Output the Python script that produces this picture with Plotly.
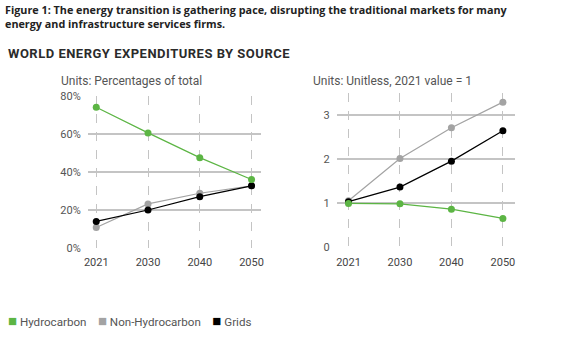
import plotly.graph_objects as go

years = ["2021", "2030", "2040", "2050"]

# Share of world energy expenditures (% of total)
share_hydrocarbon = [74, 60.5, 47.5, 36]
share_non_hydrocarbon = [10.8, 23.2, 28.8, 32.7]
share_grids = [14, 20, 27, 32.7]

# Expenditures indexed to 2021 (2021 value = 1)
index_hydrocarbon = [1.0, 0.99, 0.87, 0.66]
index_non_hydrocarbon = [1.06, 2.02, 2.72, 3.30]
index_grids = [1.04, 1.37, 1.96, 2.65]

pct_ticks = [0, 20, 40, 60, 80]
pct_labels = ["0%", "20%", "40%", "60%", "80%"]
idx_ticks = [0, 1, 2, 3]

GREEN = "#5cb544"
GREY = "#a3a3a3"
BLACK = "#000000"
FONT = "Roboto"

series = [
    ("Hydrocarbon", GREEN, share_hydrocarbon, index_hydrocarbon),
    ("Non-Hydrocarbon", GREY, share_non_hydrocarbon, index_non_hydrocarbon),
    ("Grids", BLACK, share_grids, index_grids),
]

fig = go.Figure()

# grey first, then black, green on top
for name, color, share, idx in [series[1], series[2], series[0]]:
    fig.add_trace(go.Scatter(
        x=years, y=share, mode="lines+markers", name=name,
        line=dict(color=color, width=1.2),
        marker=dict(color=color, size=7),
        xaxis="x", yaxis="y", showlegend=False,
    ))
    fig.add_trace(go.Scatter(
        x=years, y=idx, mode="lines+markers", name=name,
        line=dict(color=color, width=1.2),
        marker=dict(color=color, size=7),
        xaxis="x2", yaxis="y2", showlegend=False,
    ))

W, H = 577, 341

def px(x):
    return x / W

def py(y):
    return 1 - y / H

xcommon = dict(
    type="category", showgrid=True, gridcolor="#c4c4c4", griddash="dash",
    gridwidth=1, zeroline=False, showline=False,
    ticks="outside", ticklen=4, tickcolor="rgba(0,0,0,0)",
    tickfont=dict(family=FONT, size=11, color="#444444"),
)
ycommon = dict(
    showgrid=True, gridcolor="#c4c4c4", gridwidth=1.5, zeroline=False,
    showline=False, ticks="outside", ticklen=4, tickcolor="rgba(0,0,0,0)",
    tickfont=dict(family=FONT, size=11, color="#555555"),
)

legend_html = "&nbsp;&nbsp;&nbsp;&nbsp;".join(
    f"<span style='color:{c};font-size:15px'>■</span>&nbsp;{n}"
    for n, c, _, _ in series
)

fig.update_layout(
    width=W, height=H,
    margin=dict(l=0, r=0, t=0, b=0),
    paper_bgcolor="white", plot_bgcolor="white",
    showlegend=False,
    xaxis=dict(xcommon, domain=[px(85), px(260)], range=[-0.16, 3.18],
               anchor="y"),
    yaxis=dict(ycommon, domain=[py(251.7), py(93.3)], range=[0, 80],
               tickvals=pct_ticks, ticktext=pct_labels, anchor="x"),
    xaxis2=dict(xcommon, domain=[px(337), px(517)], range=[-0.225, 3.23],
                anchor="y2"),
    yaxis2=dict(ycommon, domain=[py(251), py(90.8)], range=[0, 3.5],
                tickvals=idx_ticks, anchor="x2"),
    annotations=[
        dict(text="<b>Figure 1: The energy transition is gathering pace, disrupting the traditional markets for many<br>energy and infrastructure services firms.</b>",
             x=px(-1), y=py(-6), xref="paper", yref="paper", xanchor="left",
             yanchor="top", showarrow=False, align="left",
             font=dict(family="Open Sans", size=10.8, color="#222222")),
        dict(text="<b><span style='letter-spacing:0.5px'>WORLD ENERGY EXPENDITURES BY SOURCE</span></b>",
             x=px(2), y=py(49), xref="paper", yref="paper", xanchor="left",
             yanchor="middle", showarrow=False,
             font=dict(family=FONT, size=13, color="#2b2b2b")),
        dict(text="Units: Percentages of total",
             x=px(56), y=py(78), xref="paper", yref="paper", xanchor="left",
             yanchor="middle", showarrow=False,
             font=dict(family=FONT, size=12, color="#555555")),
        dict(text="Units: Unitless, 2021 value = 1",
             x=px(311), y=py(78), xref="paper", yref="paper", xanchor="left",
             yanchor="middle", showarrow=False,
             font=dict(family=FONT, size=12, color="#555555")),
        dict(text=legend_html,
             x=px(2), y=py(328), xref="paper", yref="paper", xanchor="left",
             yanchor="middle", showarrow=False,
             font=dict(family=FONT, size=11.6, color="#555555")),
    ],
)

fig.write_html("out.html")
